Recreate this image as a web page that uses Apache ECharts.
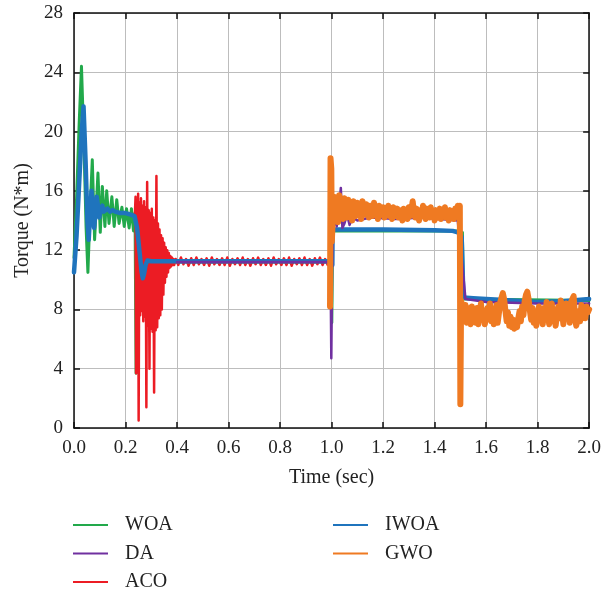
<!DOCTYPE html>
<html>
<head>
<meta charset="utf-8">
<script src="https://cdn.jsdelivr.net/npm/echarts@6/dist/echarts.min.js"></script>
<style>
  html, body { margin: 0; padding: 0; background: #fff; }
  #chart { width: 604px; height: 593px; }
</style>
</head>
<body>
<div id="chart"></div>
<script>
// Axis tick labels
var xTicks = ['0.0', '0.2', '0.4', '0.6', '0.8', '1.0', '1.2', '1.4', '1.6', '1.8', '2.0'];
var yTicks = [0, 4, 8, 12, 16, 20, 24, 28];

// WOA torque response [time s, torque N*m]
var woa = [
  [0, 11.5], [0.01, 15.5], [0.02, 20.5], [0.029, 24.4], [0.038, 19.5], [0.047, 13.5],
  [0.054, 10.5], [0.062, 14.5], [0.071, 18.1], [0.08, 12.7], [0.093, 17.2], [0.102, 13.2],
  [0.11, 16.3], [0.12, 13.6], [0.127, 16.0], [0.136, 13.8], [0.147, 15.6], [0.156, 13.6],
  [0.166, 15.4], [0.175, 13.8], [0.186, 14.9], [0.195, 13.6], [0.204, 14.8], [0.214, 13.5],
  [0.223, 14.8], [0.231, 13.3], [0.237, 14.5], [0.241, 3.7], [0.246, 11.0], [0.3, 11.2],
  [0.998, 11.2], [1.001, 7.1], [1.004, 13.3], [1.49, 13.3], [1.508, 13.2], [1.512, 8.7],
  [2.0, 8.6]
];

// IWOA torque response
var iwoa = [
  [0, 10.5], [0.01, 13.0], [0.02, 16.5], [0.03, 20.0], [0.037, 21.7], [0.045, 18.0],
  [0.052, 14.0], [0.057, 12.7], [0.063, 14.5], [0.068, 16.0], [0.073, 14.8], [0.078, 13.5],
  [0.083, 14.5], [0.088, 15.6], [0.093, 15.0], [0.098, 14.2], [0.104, 14.8], [0.11, 15.0],
  [0.115, 14.6], [0.12, 14.5], [0.13, 14.8], [0.14, 14.6], [0.15, 14.7], [0.16, 14.6],
  [0.18, 14.5], [0.2, 14.5], [0.22, 14.4], [0.235, 14.3], [0.245, 13.5], [0.255, 11.8],
  [0.262, 10.6], [0.267, 10.1], [0.272, 10.4], [0.278, 11.0], [0.285, 11.3], [0.3, 11.25],
  [0.99, 11.25], [1.0, 11.2], [1.003, 11.0], [1.004, 13.4], [1.2, 13.4], [1.4, 13.35],
  [1.47, 13.3], [1.49, 13.2], [1.505, 12.9], [1.512, 8.8], [1.55, 8.75], [1.7, 8.6],
  [1.8, 8.5], [1.9, 8.55], [2.0, 8.7]
];

// DA torque response
var da = [
  [0.4, 11.2], [0.99, 11.2], [0.996, 11.0], [0.999, 4.7], [1.003, 12.5], [1.01, 14.2],
  [1.02, 13.6], [1.028, 14.6], [1.036, 16.2], [1.042, 13.5], [1.05, 13.8], [1.06, 14.4],
  [1.07, 13.7], [1.08, 14.2], [1.1, 14.0], [1.15, 14.2], [1.25, 14.1], [1.35, 14.2],
  [1.49, 14.0], [1.495, 13.0], [1.505, 11.5], [1.52, 8.7], [1.6, 8.5], [1.8, 8.4],
  [2.0, 8.4]
];

// ACO torque response: transient burst after the first load step
var acoBurst = [
  [0.236, 14.2], [0.239, 15.6], [0.241, 3.7], [0.243, 15.4], [0.246, 7.8], [0.249, 15.8],
  [0.251, 0.5], [0.254, 15.2], [0.257, 7.6], [0.26, 15.5], [0.263, 7.9], [0.266, 15.0],
  [0.269, 7.2], [0.272, 15.3], [0.275, 7.5], [0.278, 14.9], [0.281, 1.4], [0.284, 16.6],
  [0.287, 6.9], [0.29, 14.7], [0.293, 4.0], [0.296, 14.5], [0.299, 6.7], [0.302, 14.8],
  [0.305, 6.5], [0.308, 14.2], [0.311, 2.4], [0.314, 14.0], [0.317, 6.6], [0.32, 17.0],
  [0.323, 6.8], [0.326, 13.8], [0.329, 7.4], [0.332, 13.4], [0.335, 7.6], [0.338, 13.0],
  [0.341, 8.0], [0.344, 12.8], [0.347, 9.0], [0.35, 12.5], [0.353, 9.8], [0.356, 12.2],
  [0.359, 10.2], [0.362, 12.0], [0.365, 10.5], [0.368, 11.8], [0.371, 10.8], [0.374, 11.6],
  [0.377, 10.9], [0.38, 11.5], [0.383, 11.0], [0.386, 11.4], [0.389, 11.0]
];
// ACO steady ripple, sampled every 10 ms from 0.395 s
var acoRippleStart = 0.395;
var acoRippleStep = 0.01;
var acoRipple = [
  11.4, 11.0, 11.5, 11.05, 11.4, 10.95, 11.45, 11.0, 11.5, 11.05,
  11.4, 11.0, 11.45, 10.95, 11.5, 11.05, 11.4, 11.0, 11.45, 11.0,
  11.5, 10.95, 11.4, 11.05, 11.45, 11.0, 11.5, 11.0, 11.4, 10.95,
  11.45, 11.05, 11.5, 11.0, 11.4, 11.0, 11.45, 10.95, 11.5, 11.05,
  11.4, 11.0, 11.45, 11.0, 11.5, 10.95, 11.4, 11.05, 11.45, 11.0,
  11.5, 11.0, 11.4, 10.95, 11.45, 11.05, 11.5, 11.0, 11.4, 11.0, 11.3
];

// GWO torque response
var gwoStep = 0.005;
var gwoJump = [[0.994, 8.2], [0.996, 18.2], [0.999, 17.5], [1.001, 12.6]];
var gwoHighStart = 1.005;
var gwoHigh = [
  14.2, 15.6, 14.4, 15.2, 13.9, 15.7, 14.6, 15.3, 14.1, 15.5,
  14.8, 14.2, 15.4, 14.5, 15.1, 14.0, 15.3, 14.7, 14.3, 15.2,
  14.6, 15.0, 14.1, 15.3, 14.9, 14.4, 15.1, 14.6, 14.2, 15.0,
  14.8, 14.3, 15.2, 14.5, 14.9, 14.1, 15.0, 14.7, 14.4, 14.9,
  14.2, 14.8, 14.5, 15.0, 14.3, 14.7, 14.1, 14.9, 14.6, 14.3,
  14.8, 14.2, 14.7, 14.5, 14.0, 14.8, 14.4, 14.6, 14.1, 14.9,
  14.3, 14.7, 15.3, 14.5, 14.2, 14.8, 14.4, 14.0, 14.7, 14.3,
  15.0, 14.4, 14.1, 14.8, 14.5, 14.2, 14.9, 14.3, 14.6, 14.0,
  14.7, 14.4, 14.2, 14.8, 14.1, 14.6, 14.3, 14.9, 14.2, 14.5,
  14.0, 14.7, 14.3, 14.6, 14.1, 14.8, 14.4, 15.0, 14.6
];
var gwoDrop = [[1.498, 15.0], [1.5, 1.6], [1.503, 8.6]];
var gwoLowStart = 1.51;
var gwoLow = [
  8.6, 7.6, 8.3, 7.1, 8.1, 7.5, 7.0, 8.2, 7.3, 7.9,
  7.1, 8.1, 7.0, 7.8, 8.4, 7.3, 7.9, 7.0, 7.5, 8.1,
  7.4, 8.4, 7.2, 7.9, 7.0, 7.6, 8.3, 7.1, 7.8, 8.5,
  8.8, 9.1, 8.7, 7.9, 7.2, 7.8, 6.9, 7.5, 6.8, 7.3,
  6.7, 7.1, 6.8, 7.4, 7.9, 7.2, 8.2, 7.6, 8.6, 9.0,
  9.2, 8.7, 7.9, 7.3, 8.1, 7.1, 7.8, 6.9, 7.6, 8.2,
  7.3, 7.9, 7.0, 8.1, 7.4, 8.5, 7.6, 7.0, 7.9, 8.4,
  7.2, 7.8, 6.9, 7.6, 8.2, 7.4, 8.6, 7.8, 7.0, 7.9,
  8.4, 7.4, 8.1, 7.1, 8.5, 8.7, 8.9, 7.5, 6.9, 7.3,
  7.9, 7.2, 8.3, 7.6, 8.1, 7.4, 8.2, 7.8, 8.0
];

// Turn a uniformly sampled run into [time, value] pairs
function sampled(start, step, values) {
  return values.map(function (v, i) { return [+(start + i * step).toFixed(4), v]; });
}

var aco = acoBurst.concat(sampled(acoRippleStart, acoRippleStep, acoRipple));
var gwo = gwoJump
  .concat(sampled(gwoHighStart, gwoStep, gwoHigh))
  .concat(gwoDrop)
  .concat(sampled(gwoLowStart, gwoStep, gwoLow));

var FONT = 'Liberation Serif';
var colors = {
  WOA: '#22a94b',
  IWOA: '#1f74bd',
  DA: '#7030a0',
  ACO: '#ec1c24',
  GWO: '#ef7a22'
};

function lineSeries(name, data, width) {
  return {
    name: name,
    type: 'line',
    data: data,
    showSymbol: false,
    symbol: 'none',
    smooth: false,
    color: colors[name],
    lineStyle: { width: width, color: colors[name], join: 'round', cap: 'round' },
    emphasis: { disabled: true }
  };
}

var chart = echarts.init(document.getElementById('chart'), null, { renderer: 'canvas' });

var axisLabelStyle = { fontFamily: FONT, fontSize: 19, color: '#222' };
var legendText = { fontFamily: FONT, fontSize: 20, color: '#222', lineHeight: 20, padding: [0, 0, 0, 12] };

chart.setOption({
  animation: false,
  backgroundColor: '#fff',
  grid: { left: 74, right: 12, top: 13, bottom: 165, containLabel: false },
  legend: [
    {
      data: ['WOA', 'DA', 'ACO'],
      orient: 'vertical',
      left: 73,
      top: 515,
      padding: 0,
      icon: 'rect',
      itemWidth: 35,
      itemHeight: 2,
      itemGap: 8.5,
      textStyle: legendText
    },
    {
      data: ['IWOA', 'GWO'],
      orient: 'vertical',
      left: 333,
      top: 515,
      padding: 0,
      icon: 'rect',
      itemWidth: 35,
      itemHeight: 2,
      itemGap: 8.5,
      textStyle: legendText
    }
  ],
  xAxis: [
    {
      type: 'value',
      min: 0,
      max: 2,
      interval: 0.2,
      name: 'Time (sec)',
      nameLocation: 'middle',
      nameGap: 40,
      nameTextStyle: { fontFamily: FONT, fontSize: 20, color: '#222' },
      axisLine: { onZero: false, lineStyle: { color: '#111', width: 1.5 } },
      axisTick: { inside: true, length: 6, lineStyle: { color: '#111', width: 1.5 } },
      axisLabel: {
        margin: 11,
        ...axisLabelStyle,
        formatter: function (v) {
          var i = Math.round(v / 0.2);
          return xTicks[i] !== undefined ? xTicks[i] : '';
        }
      },
      splitLine: { show: true, lineStyle: { color: '#bdbdbd', width: 1 } }
    },
    {
      type: 'value',
      position: 'top',
      min: 0,
      max: 2,
      interval: 0.2,
      axisLine: { onZero: false, lineStyle: { color: '#111', width: 1.5 } },
      axisTick: { inside: true, length: 6, lineStyle: { color: '#111', width: 1.5 } },
      axisLabel: { show: false },
      splitLine: { show: false }
    }
  ],
  yAxis: [
    {
      type: 'value',
      min: 0,
      max: 28,
      interval: 4,
      name: 'Torque (N*m)',
      nameLocation: 'middle',
      nameGap: 40,
      nameRotate: 90,
      nameTextStyle: { fontFamily: FONT, fontSize: 20, color: '#222' },
      axisLine: { show: true, onZero: false, lineStyle: { color: '#111', width: 1.5 } },
      axisTick: { show: true, inside: true, length: 6, lineStyle: { color: '#111', width: 1.5 } },
      axisLabel: {
        margin: 11,
        ...axisLabelStyle,
        formatter: function (v) {
          var i = Math.round(v / 4);
          return yTicks[i] !== undefined ? String(yTicks[i]) : '';
        }
      },
      splitLine: { show: true, lineStyle: { color: '#bdbdbd', width: 1 } }
    },
    {
      type: 'value',
      position: 'right',
      min: 0,
      max: 28,
      interval: 4,
      axisLine: { show: true, onZero: false, lineStyle: { color: '#111', width: 1.5 } },
      axisTick: { show: true, inside: true, length: 6, lineStyle: { color: '#111', width: 1.5 } },
      axisLabel: { show: false },
      splitLine: { show: false }
    }
  ],
  series: [
    lineSeries('WOA', woa, 3),
    lineSeries('ACO', aco, 2.5),
    lineSeries('IWOA', iwoa, 4.5),
    lineSeries('DA', da, 2.5),
    lineSeries('GWO', gwo, 6)
  ]
});
</script>
</body>
</html>
